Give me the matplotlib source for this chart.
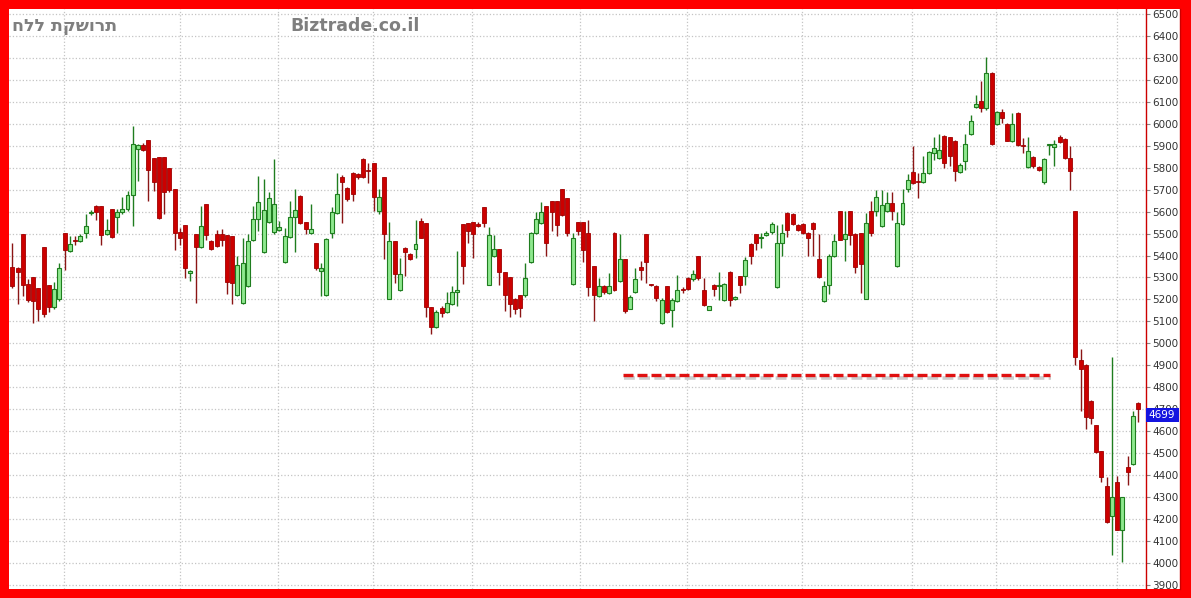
import matplotlib
matplotlib.use('Agg')
import matplotlib.pyplot as plt
from matplotlib.patches import Rectangle
from matplotlib.lines import Line2D
import numpy as np

opens = [5347,5344,5499,5271,5302,5253,5441,5265,5165,5200,5503,5420,5473,5464,5503,5592,5624,5624,5500,5612,
         5576,5597,5612,5674,5885,5905,5927,5844,5848,5848,5798,5703,5505,5541,5320,5500,5439,5636,5468,5500,
         5500,5495,5488,5220,5183,5259,5470,5565,5414,5555,5508,5515,5371,5486,5576,5671,5553,5504,5459,5330,
         5221,5504,5595,5760,5709,5777,5770,5842,5790,5823,5603,5758,5202,5467,5242,5433,5409,5429,5558,5547,
         5164,5073,5159,5144,5179,5232,5542,5547,5551,5545,5621,5268,5397,5432,5324,5302,5203,5220,5218,5371,
         5503,5548,5624,5650,5650,5703,5662,5271,5551,5551,5502,5353,5217,5259,5229,5502,5285,5383,5158,5232,
         5350,5497,5268,5262,5092,5259,5153,5191,5247,5297,5292,5398,5241,5153,5267,5262,5199,5327,5202,5305,
         5305,5451,5497,5478,5494,5505,5256,5456,5595,5589,5539,5544,5502,5550,5382,5193,5264,5400,5602,5476,
         5602,5500,5503,5203,5602,5602,5533,5602,5639,5352,5545,5703,5779,5737,5735,5776,5867,5844,5945,5939,
         5923,5779,5832,5955,6076,6102,6071,6233,6000,6056,6000,5920,6049,5903,5803,5849,5803,5735,5902,5895,
         5939,5930,5844,5605,4923,4900,4738,4627,4509,4352,4215,4367,4152,4438,4450,4730]
highs = [5455,5350,5499,5291,5302,5253,5441,5265,5280,5367,5503,5491,5488,5500,5591,5609,5630,5624,5568,5612,
         5612,5667,5692,5991,5910,5912,5927,5844,5848,5848,5798,5703,5526,5541,5335,5500,5627,5636,5470,5515,
         5521,5495,5488,5397,5482,5497,5626,5762,5750,5691,5841,5558,5524,5648,5702,5675,5555,5633,5459,5368,
         5478,5623,5777,5765,5712,5780,5777,5845,5823,5823,5702,5760,5553,5467,5391,5440,5412,5562,5573,5547,
         5164,5150,5170,5235,5259,5421,5545,5550,5555,5551,5621,5529,5495,5432,5324,5302,5206,5222,5367,5508,
         5598,5642,5624,5650,5650,5703,5662,5503,5555,5551,5562,5353,5297,5265,5320,5505,5497,5385,5221,5342,
         5377,5497,5270,5265,5205,5262,5205,5312,5255,5300,5335,5400,5297,5172,5270,5327,5275,5330,5215,5308,
         5395,5455,5500,5502,5510,5555,5539,5544,5598,5592,5542,5547,5505,5553,5499,5283,5405,5499,5605,5602,
         5605,5503,5503,5594,5647,5697,5697,5689,5689,5597,5703,5771,5900,5776,5852,5875,5942,5953,5948,5940,
         5925,5820,5953,6041,6132,6195,6303,6236,6060,6067,6003,6049,6052,5935,5938,5852,5806,5845,5909,5927,
         5950,5935,5897,5605,4973,4905,4740,4630,4510,4390,4940,4397,4302,4485,4690,4735]
lows = [5253,5177,5215,5190,5091,5102,5121,5142,5158,5195,5336,5415,5450,5460,5480,5583,5564,5450,5495,5480,
        5503,5590,5605,5533,5738,5875,5647,5692,5567,5591,5690,5423,5450,5298,5283,5185,5435,5473,5425,5440,
        5445,5223,5177,5215,5178,5255,5465,5512,5410,5550,5500,5510,5365,5480,5417,5545,5497,5497,5335,5217,
        5217,5482,5590,5550,5650,5648,5750,5755,5732,5603,5588,5383,5200,5277,5238,5308,5380,5391,5478,5118,
        5042,5068,5120,5140,5175,5171,5270,5459,5389,5530,5529,5265,5392,5268,5147,5120,5135,5120,5212,5365,
        5498,5543,5397,5511,5488,5580,5488,5268,5495,5370,5214,5100,5212,5225,5225,5240,5280,5140,5155,5228,
        5289,5274,5262,5195,5090,5140,5073,5188,5230,5243,5285,5290,5170,5150,5214,5199,5195,5171,5198,5229,
        5267,5361,5426,5435,5490,5500,5250,5396,5483,5540,5512,5498,5398,5400,5298,5190,5223,5395,5470,5374,
        5450,5321,5230,5200,5488,5580,5530,5598,5564,5348,5540,5690,5725,5662,5730,5770,5836,5840,5799,5806,
        5741,5775,5791,5950,6070,6056,6065,5905,5995,6003,5920,5915,5900,5867,5800,5800,5785,5725,5859,5806,
        5912,5840,5700,4900,4693,4609,4632,4500,4367,4180,4037,4148,4003,4355,4445,4640]
closes = [5261,5324,5268,5196,5193,5158,5135,5165,5246,5344,5423,5453,5464,5488,5533,5595,5598,5495,5518,5485,
          5598,5612,5677,5908,5905,5879,5788,5733,5571,5690,5697,5503,5480,5344,5329,5439,5536,5492,5430,5442,
          5473,5279,5273,5355,5364,5467,5565,5645,5606,5664,5633,5532,5489,5576,5608,5550,5520,5520,5341,5345,
          5474,5598,5679,5735,5656,5679,5760,5759,5785,5668,5668,5500,5467,5315,5318,5414,5386,5452,5482,5167,
          5073,5145,5138,5183,5235,5242,5353,5512,5500,5535,5548,5495,5432,5324,5218,5177,5158,5159,5299,5503,
          5567,5598,5458,5598,5541,5586,5503,5480,5510,5423,5255,5218,5259,5236,5259,5244,5383,5149,5209,5292,
          5335,5370,5265,5205,5199,5145,5199,5244,5244,5247,5317,5297,5176,5168,5247,5265,5271,5199,5211,5267,
          5380,5398,5459,5483,5504,5544,5456,5502,5517,5544,5517,5502,5479,5520,5302,5261,5400,5468,5473,5500,
          5495,5347,5362,5549,5503,5665,5632,5639,5602,5549,5639,5742,5730,5735,5776,5870,5890,5882,5821,5852,
          5783,5814,5908,6015,6091,6071,6233,5909,6056,6026,5923,6000,5905,5898,5877,5806,5788,5840,5906,5910,
          5915,5844,5786,4940,4885,4665,4658,4503,4393,4185,4299,4152,4299,4415,4670,4699]

price_ticks = list(range(3900, 6600, 100))
last_price = "4699"
month_grid = [9.87, 32.02, 50.73, 68.87, 87.78, 108.4, 128.8, 150.8, 171.8, 187.8, 210.9]
support_level = 4857
support_span = [116.6, 198.1]
title_he = "חלל תקשורת"
title_site = "Biztrade.co.il"

W, H = 1191, 598
fig = plt.figure(figsize=(W / 100, H / 100), dpi=100)
fig.patch.set_facecolor('#ff0000')

# white label strip on the right
fig.add_artist(Rectangle((1146 / W, 9 / H), (1181 - 1146) / W, 580 / H,
                         transform=fig.transFigure, facecolor='white', edgecolor='none', zorder=-1))
fig.add_artist(Line2D([1180 / W, 1180 / W], [9 / H, 589 / H], transform=fig.transFigure,
                      color='#cc0000', lw=1.0, zorder=6))

ax = fig.add_axes([9 / W, 9 / H, (1146 - 9) / W, (589 - 9) / H])
ax.set_facecolor('white')

o = np.array(opens, float)
h = np.array(highs, float)
l = np.array(lows, float)
c = np.array(closes, float)
x = np.arange(len(o))
up = c >= o

green_edge = '#1f7d1f'
red_wick = '#8b1515'
ax.vlines(x[up], l[up], h[up], color=green_edge, lw=1.0, zorder=2)
ax.vlines(x[~up], l[~up], h[~up], color=red_wick, lw=1.0, zorder=2)
bottom = np.minimum(o, c)
height = np.maximum(np.abs(c - o), 5)
ax.bar(x[up], height[up], bottom=bottom[up], width=0.76, color='#8fe88f',
       edgecolor=green_edge, linewidth=0.8, zorder=3)
ax.bar(x[~up], height[~up], bottom=bottom[~up], width=0.76, color='#cc0000',
       edgecolor='#a00000', linewidth=0.6, zorder=3)

# support dashed line with shadow
ax.plot([support_span[0] + 0.25, support_span[1] + 0.25], [support_level - 14, support_level - 14],
        color='#b8b8b8', lw=2.6, dashes=(3, 1.2), alpha=0.7, zorder=3.5)
ax.plot(support_span, [support_level, support_level], color='#e01010', lw=2.4,
        dashes=(3, 1.2), zorder=4)

ax.set_xlim(-0.63, 216.5)
ax.set_ylim(3881, 6523)
ax.set_yticks(price_ticks)
ax.set_xticks(month_grid)
ax.set_xticklabels([])
ax.tick_params(axis='x', length=0)
ax.yaxis.tick_right()
ax.tick_params(axis='y', labelsize=7.5, labelcolor='#333333', length=3, color='#888888', pad=1.5)
ax.grid(True, color='#c4c4c4', linestyle=':', linewidth=0.9)
ax.set_axisbelow(True)
for s in ['left', 'top', 'bottom']:
    ax.spines[s].set_visible(False)
ax.spines['right'].set_color('#cc0000')
ax.spines['right'].set_linewidth(1.0)

# last price box
fig.add_artist(Rectangle((1146 / W, 1 - 422 / H), (1179 - 1146) / W, 14 / H,
                         transform=fig.transFigure, facecolor='#1414e0', edgecolor='none', zorder=5))
fig.text(1162 / W, 1 - 415 / H, last_price, color='white', fontsize=7.5, ha='center', va='center', zorder=6)

fig.text(12 / W, 1 - 26 / H, title_he, fontsize=12.5, fontweight='bold', color='#7f7f7f',
         va='center', ha='left', family='DejaVu Sans')
fig.text(290 / W, 1 - 26 / H, title_site, fontsize=12.5, fontweight='bold', color='#7f7f7f',
         va='center', ha='left')

fig.savefig('out.png', dpi=100, facecolor=fig.get_facecolor())
